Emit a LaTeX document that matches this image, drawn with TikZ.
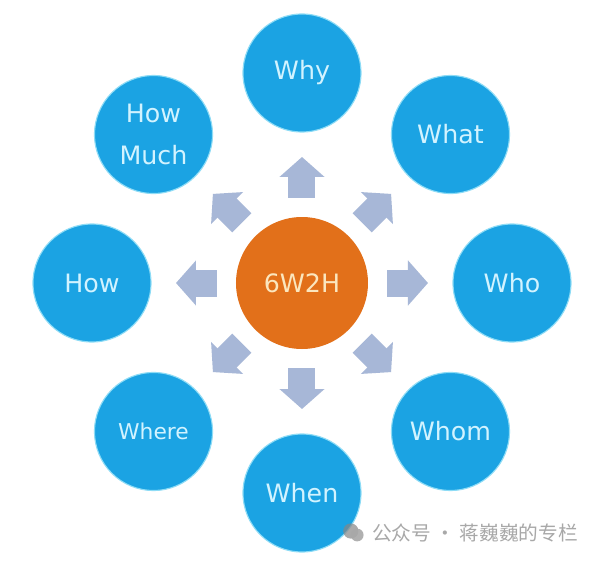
\documentclass[tikz,border=0pt]{standalone}
\usepackage{fontspec}
\usepackage{tikz}
\usetikzlibrary{arrows.meta, positioning, calc}
\newfontfamily\lblfont{DejaVu Sans}
\newfontfamily\cjkfont{Noto Sans CJK SC}
\definecolor{SkyBlue}{HTML}{1BA3E3}
\definecolor{PaleCyan}{HTML}{D2F3FF}
\definecolor{GlowBlue}{HTML}{8EDCF6}
\definecolor{BurntOrange}{HTML}{E2701A}
\definecolor{PaleCream}{HTML}{FBE6BE}
\definecolor{SteelGray}{HTML}{A7B7D7}
\definecolor{MarkGray}{HTML}{A8A8A8}

\begin{document}
\begin{tikzpicture}
\fill[white] (-7.55,-6.975) rectangle (7.45,7.075);
\useasboundingbox (-7.55,-6.975) rectangle (7.45,7.075);
% centre
\node[circle, fill=BurntOrange, minimum size=3.3cm, inner sep=0pt,
      text=PaleCream, font=\lblfont\fontsize{18}{22}\selectfont] (hub) at (0,0) {6W2H};
% outer ring
\foreach \name/\ang/\txt/\fs in {why/90/Why/18, what/45/What/18, who/0/Who/18,
        whom/-45/Whom/18, when/-90/When/18, where/-135/Where/15.5,
        how/180/How/18, howmuch/135/{How\\Much}/18} {
    \node[circle, fill=SkyBlue, draw=GlowBlue, line width=0.8pt,
          minimum size=2.95cm, inner sep=0pt, align=center, text=PaleCyan,
          font=\lblfont\fontsize{\fs}{30}\selectfont] (\name) at (\ang:5.25) {\txt};
}
% block arrows
\foreach \name in {why,what,who,whom,when,where,how,howmuch} {
    \draw[SteelGray, line width=0.675cm,
          -{Triangle[width=1.1cm, length=0.5cm]}]
        ($(hub)!0.405!(\name)$) -- ($(hub)!0.6!(\name)$);
}
% watermark
\fill[MarkGray!80!black, opacity=0.7] (1.22,-6.2) circle (0.19);
\fill[MarkGray, opacity=0.9] (1.38,-6.3) circle (0.16);
\node[anchor=west, text=MarkGray, inner sep=0pt,
      font=\cjkfont\fontsize{14}{16}\selectfont] (mark) at (1.75,-6.25)
      {公众号 · 蒋巍巍的专栏};
\end{tikzpicture}
\end{document}
